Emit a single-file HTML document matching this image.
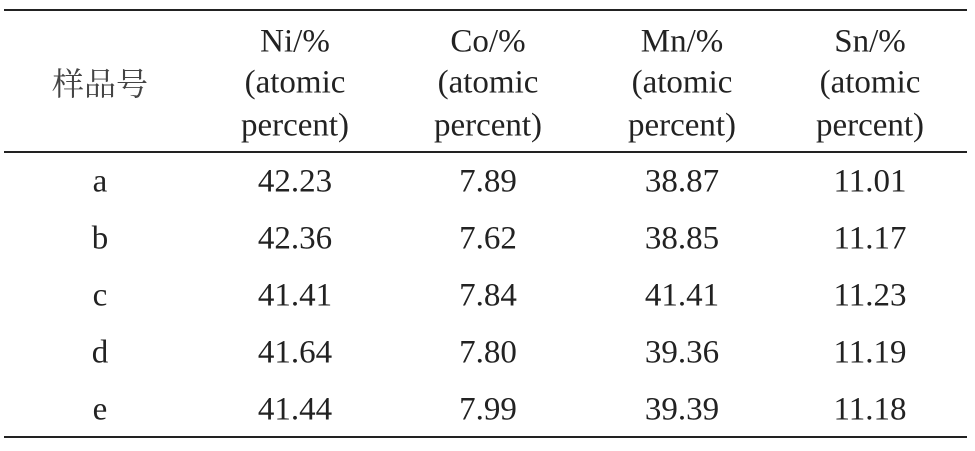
<!DOCTYPE html><html><head><style>
body{margin:0;width:975px;height:451px;background:#fff;position:relative;overflow:hidden;font-family:"Liberation Serif","Noto Serif CJK SC",serif;color:#222}
.l{position:absolute;left:4px;width:963px;background:#222}
.t{position:absolute;font-size:33px;transform:translate(-50%,-50%);white-space:nowrap;line-height:1}
</style></head><body>
<div class="l" style="top:9px;height:2px"></div>
<div class="l" style="top:151px;height:1.5px"></div>
<div class="l" style="top:436px;height:2px"></div>
<div class="t" style="left:100px;top:82px;font-family:'Noto Serif CJK SC',serif;color:#444;font-size:32px">样品号</div>
<div class="t" style="left:295px;top:42px">Ni/%</div><div class="t" style="left:295px;top:83px">(atomic</div><div class="t" style="left:295px;top:126px">percent)</div>
<div class="t" style="left:488px;top:42px">Co/%</div><div class="t" style="left:488px;top:83px">(atomic</div><div class="t" style="left:488px;top:126px">percent)</div>
<div class="t" style="left:682px;top:42px">Mn/%</div><div class="t" style="left:682px;top:83px">(atomic</div><div class="t" style="left:682px;top:126px">percent)</div>
<div class="t" style="left:870px;top:42px">Sn/%</div><div class="t" style="left:870px;top:83px">(atomic</div><div class="t" style="left:870px;top:126px">percent)</div>
<div class="t" style="left:100px;top:182px">a</div><div class="t" style="left:295px;top:182px">42.23</div><div class="t" style="left:488px;top:182px">7.89</div><div class="t" style="left:682px;top:182px">38.87</div><div class="t" style="left:870px;top:182px">11.01</div>
<div class="t" style="left:100px;top:239px">b</div><div class="t" style="left:295px;top:239px">42.36</div><div class="t" style="left:488px;top:239px">7.62</div><div class="t" style="left:682px;top:239px">38.85</div><div class="t" style="left:870px;top:239px">11.17</div>
<div class="t" style="left:100px;top:296px">c</div><div class="t" style="left:295px;top:296px">41.41</div><div class="t" style="left:488px;top:296px">7.84</div><div class="t" style="left:682px;top:296px">41.41</div><div class="t" style="left:870px;top:296px">11.23</div>
<div class="t" style="left:100px;top:353px">d</div><div class="t" style="left:295px;top:353px">41.64</div><div class="t" style="left:488px;top:353px">7.80</div><div class="t" style="left:682px;top:353px">39.36</div><div class="t" style="left:870px;top:353px">11.19</div>
<div class="t" style="left:100px;top:410px">e</div><div class="t" style="left:295px;top:410px">41.44</div><div class="t" style="left:488px;top:410px">7.99</div><div class="t" style="left:682px;top:410px">39.39</div><div class="t" style="left:870px;top:410px">11.18</div>
</body></html>
